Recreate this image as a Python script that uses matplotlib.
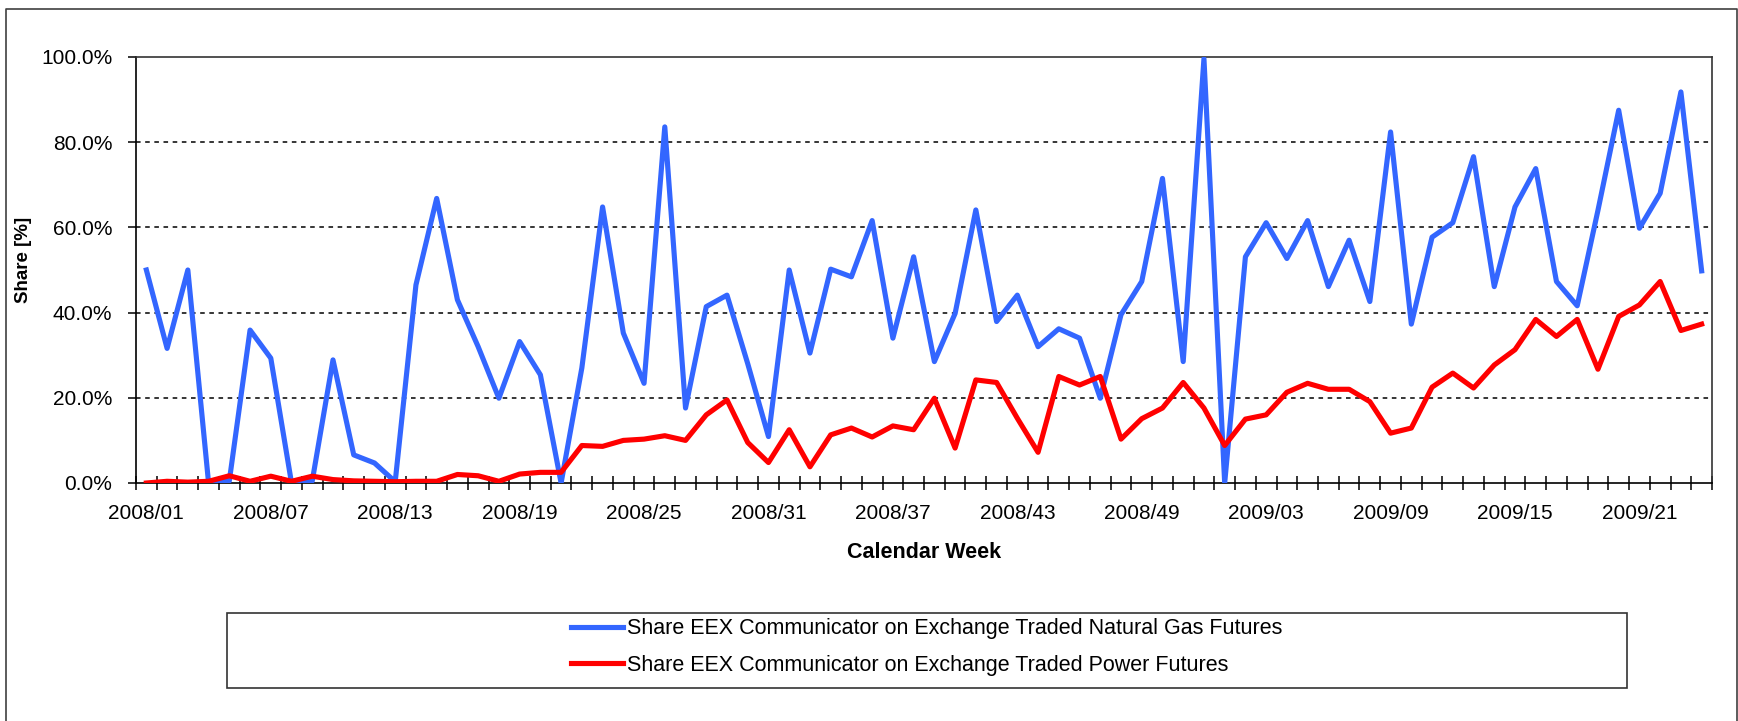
"""EEX Communicator share on exchange traded futures, weekly 2008-2009
"""
import matplotlib
matplotlib.use("Agg")
import matplotlib.pyplot as plt
from matplotlib.lines import Line2D
from matplotlib.patches import Rectangle

plt.rcParams["font.family"] = ["Liberation Sans", "DejaVu Sans"]

################################################################################
weeks = [f"2008/{w:02d}" for w in range(1, 53)] + [f"2009/{w:02d}" for w in range(1, 25)]

gas_share = [50.0, 31.6, 50.0, 0.0, 0.5, 35.9, 29.3, 0.0, 0.5, 28.9,
             6.6, 4.7, 0.3, 46.5, 66.8, 43.0, 32.0, 19.9, 33.2, 25.4,
             0.0, 27.0, 64.8, 35.2, 23.4, 83.6, 17.6, 41.4, 44.1, 28.0,
             10.9, 50.0, 30.5, 50.2, 48.4, 61.6, 34.0, 53.1, 28.5, 39.8,
             64.1, 37.9, 44.1, 32.0, 36.2, 34.0, 19.9, 39.5, 47.3, 71.5,
             28.5, 99.6, 0.0, 53.1, 61.1, 52.7, 61.6, 46.1, 57.0, 42.6,
             82.4, 37.3, 57.7, 61.1, 76.6, 46.1, 64.8, 73.8, 47.3, 41.6,
             64.0, 87.5, 59.8, 68.0, 91.8, 49.8]

power_share = [0.0, 0.4, 0.2, 0.4, 1.7, 0.4, 1.6, 0.4, 1.6, 0.8,
               0.5, 0.4, 0.3, 0.4, 0.4, 2.0, 1.7, 0.4, 2.1, 2.5,
               2.5, 8.8, 8.6, 10.0, 10.3, 11.1, 10.0, 16.0, 19.5, 9.5,
               4.8, 12.5, 3.8, 11.3, 12.9, 10.8, 13.4, 12.5, 19.9, 8.2,
               24.2, 23.6, 15.2, 7.2, 25.0, 23.0, 25.0, 10.3, 15.1, 17.6,
               23.6, 17.6, 8.8, 15.0, 16.0, 21.3, 23.4, 22.0, 22.0, 19.1,
               11.7, 12.9, 22.5, 25.8, 22.3, 27.7, 31.3, 38.4, 34.4, 38.4,
               26.7, 39.1, 41.8, 47.3, 35.8, 37.3]

gas_label = "Share EEX Communicator on Exchange Traded Natural Gas Futures"
power_label = "Share EEX Communicator on Exchange Traded Power Futures"
################################################################################

W, H = 1738, 721
fig = plt.figure(figsize=(W / 100, H / 100), dpi=100)
ax = fig.add_axes([136 / W, 1 - 483 / H, 1576 / W, 426 / H])

x = list(range(len(weeks)))
ax.plot(x, gas_share, color="#3366ff", lw=3.7, label=gas_label, zorder=3)
ax.plot(x, power_share, color="#ff0000", lw=3.7, label=power_label, zorder=4)

ax.set_xlim(-0.5, len(weeks) - 0.5)
ax.set_ylim(0, 100)

# y axis
ax.set_yticks([0, 20, 40, 60, 80, 100])
ax.set_yticklabels([f"{v:.1f}%" for v in [0, 20, 40, 60, 80, 100]])
ax.tick_params(axis="y", direction="out", length=6, width=1.1, pad=11,
               labelsize=15, colors="black")
for v in [20, 40, 60, 80]:
    ax.axhline(v, color="black", lw=1.1, ls=(0, (3, 3)), zorder=1)

# x axis: tick marks between weeks, labels every 6th week
ax.set_xticks([i - 0.5 for i in range(len(weeks) + 1)])
ax.set_xticklabels([])
ax.tick_params(axis="x", which="major", direction="inout", length=9.5, width=1.1)
ax.set_xticks(x[::6], minor=True)
ax.set_xticklabels(weeks[::6], minor=True)
ax.tick_params(axis="x", which="minor", length=0, pad=15, labelsize=15)

for s in ax.spines.values():
    s.set_linewidth(1.2)
    s.set_color("black")
ax.spines["top"].set_color("#333333")
ax.spines["right"].set_color("#333333")

fig.text(924 / W, 1 - 558 / H, "Calendar Week", ha="center", va="baseline",
         fontsize=15.5, fontweight="bold")
fig.text(23 / W, 1 - 260 / H, "Share [%]", rotation=90, ha="center", va="center",
         fontsize=13.5, fontweight="bold")

# outer frame (bottom edge is cut off in the original)
fig.add_artist(Line2D([6 / W, 6 / W, 1736.5 / W, 1736.5 / W], [0, 1 - 9 / H, 1 - 9 / H, 0],
                      transform=fig.transFigure, color="#404040", lw=1.2))

# legend box
fig.add_artist(Rectangle((227 / W, 1 - 688 / H), 1400 / W, 75 / H, transform=fig.transFigure,
                         facecolor="none", edgecolor="#333333", lw=1.2))
fig.legend(loc="center", bbox_to_anchor=(927 / W, 1 - 647 / H), frameon=False,
           fontsize=15.5, handlelength=2.4, handletextpad=0.2, labelspacing=0.72,
           borderpad=0)

fig.savefig("out.png", dpi=100)
